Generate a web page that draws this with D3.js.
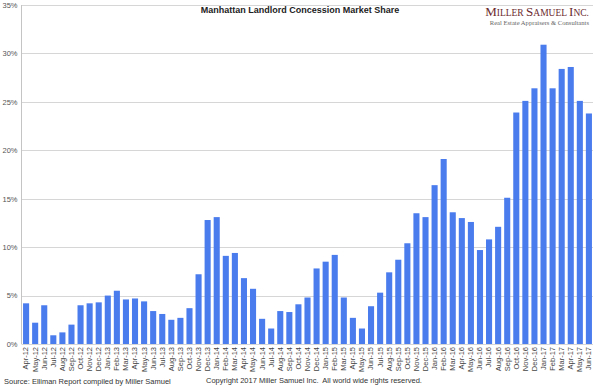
<!DOCTYPE html>
<html><head><meta charset="utf-8">
<script src="https://cdn.jsdelivr.net/npm/d3@7"></script>
<style>body{margin:0;background:#fff}svg{display:block}</style>
</head><body>
<script>
const months = ["Apr-12","May-12","Jun-12","Jul-12","Aug-12","Sep-12","Oct-12","Nov-12","Dec-12",
"Jan-13","Feb-13","Mar-13","Apr-13","May-13","Jun-13","Jul-13","Aug-13","Sep-13","Oct-13","Nov-13","Dec-13",
"Jan-14","Feb-14","Mar-14","Apr-14","May-14","Jun-14","Jul-14","Aug-14","Sep-14","Oct-14","Nov-14","Dec-14",
"Jan-15","Feb-15","Mar-15","Apr-15","May-15","Jun-15","Jul-15","Aug-15","Sep-15","Oct-15","Nov-15","Dec-15",
"Jan-16","Feb-16","Mar-16","Apr-16","May-16","Jun-16","Jul-16","Aug-16","Sep-16","Oct-16","Nov-16","Dec-16",
"Jan-17","Feb-17","Mar-17","Apr-17","May-17","Jun-17"];
const share = [4.2,2.2,4.0,0.9,1.2,2.0,4.0,4.2,4.3,
5.0,5.5,4.6,4.7,4.4,3.4,3.1,2.5,2.7,3.7,7.2,12.8,
13.1,9.1,9.4,6.8,5.7,2.6,1.6,3.4,3.3,4.1,4.8,7.8,
8.5,9.2,4.8,2.7,1.6,3.9,5.3,7.4,8.7,10.4,13.5,13.1,
16.4,19.1,13.6,13.0,12.6,9.7,10.8,12.1,15.1,23.9,25.1,26.4,
30.9,26.4,28.4,28.6,25.1,23.8];
const yTicks = [0,5,10,15,20,25,30,35];

const W=600,H=391;
const svg=d3.select("body").append("svg").attr("width",W).attr("height",H);
const x=d3.scaleBand().domain(months).range([21.5,593.5]).paddingInner(0.33).paddingOuter(0.17);
const y=d3.scaleLinear().domain([0,35]).range([344,5]);

const g=svg.append("g");
g.selectAll("line.grid").data(yTicks).join("line")
 .attr("x1",21.5).attr("x2",593).attr("y1",d=>Math.round(y(d))+0.5).attr("y2",d=>Math.round(y(d))+0.5)
 .attr("stroke","#d6d6d6").attr("stroke-width",1);

const ya=svg.append("g").attr("transform","translate(21.5,0)")
 .call(d3.axisLeft(y).tickValues(yTicks).tickFormat(d=>d+"%").tickSize(0).tickPadding(4));
ya.select(".domain").remove();
ya.selectAll("text").attr("font-family","Liberation Sans, Arial, sans-serif").attr("font-size","7.5px").attr("fill","#555");

svg.append("g").selectAll("rect").data(months).join("rect")
 .attr("x",(d)=>x(d)).attr("width",x.bandwidth())
 .attr("y",(d,i)=>y(share[i])).attr("height",(d,i)=>y(0)-y(share[i]))
 .attr("fill","#4a7cee");

svg.append("line").attr("x1",21.5).attr("x2",21.5).attr("y1",5).attr("y2",344).attr("stroke","#c4c4c4");

const xa=svg.append("g").attr("transform","translate(0,344)")
 .call(d3.axisBottom(x).tickSize(0).tickPadding(3));
xa.select(".domain").remove();
xa.selectAll("text").attr("font-family","Liberation Sans, Arial, sans-serif").attr("font-size","7.5px").attr("fill","#444")
 .attr("transform","rotate(-90)").attr("text-anchor","end").attr("dx","-3px").attr("dy","-0.5em").attr("x",0).attr("y",0)
 .attr("dy","0.32em");

svg.append("text").attr("x",300).attr("y",13).attr("text-anchor","middle")
 .attr("font-family","Liberation Sans, Arial, sans-serif").attr("font-size","9px").attr("font-weight","bold").attr("fill","#222")
 .text("Manhattan Landlord Concession Market Share");

const logo=svg.append("text").attr("x",589).attr("y",16).attr("text-anchor","end")
 .attr("font-family","Liberation Serif, Times New Roman, serif").attr("fill","#6b2a2e");
[["M",13],["ILLER ",9.5],["S",13],["AMUEL ",9.5],["I",13],["NC.",9.5]].forEach(([t,s])=>logo.append("tspan").attr("font-size",s+"px").text(t));
svg.append("text").attr("x",589).attr("y",24.5).attr("text-anchor","end")
 .attr("font-family","Liberation Serif, Times New Roman, serif").attr("font-size","6.6px").attr("fill","#666")
 .text("Real Estate Appraisers & Consultants");

svg.append("text").attr("x",4).attr("y",384)
 .attr("font-family","Liberation Sans, Arial, sans-serif").attr("font-size","7.5px").attr("fill","#333")
 .text("Source: Elliman Report compiled by Miller Samuel");
svg.append("text").attr("x",206).attr("y",383)
 .attr("font-family","Liberation Sans, Arial, sans-serif").attr("font-size","7.5px").attr("fill","#333")
 .attr("xml:space","preserve").style("white-space","pre")
 .text("Copyright 2017 Miller Samuel Inc.  All world wide rights reserved.");
</script>
</body></html>
